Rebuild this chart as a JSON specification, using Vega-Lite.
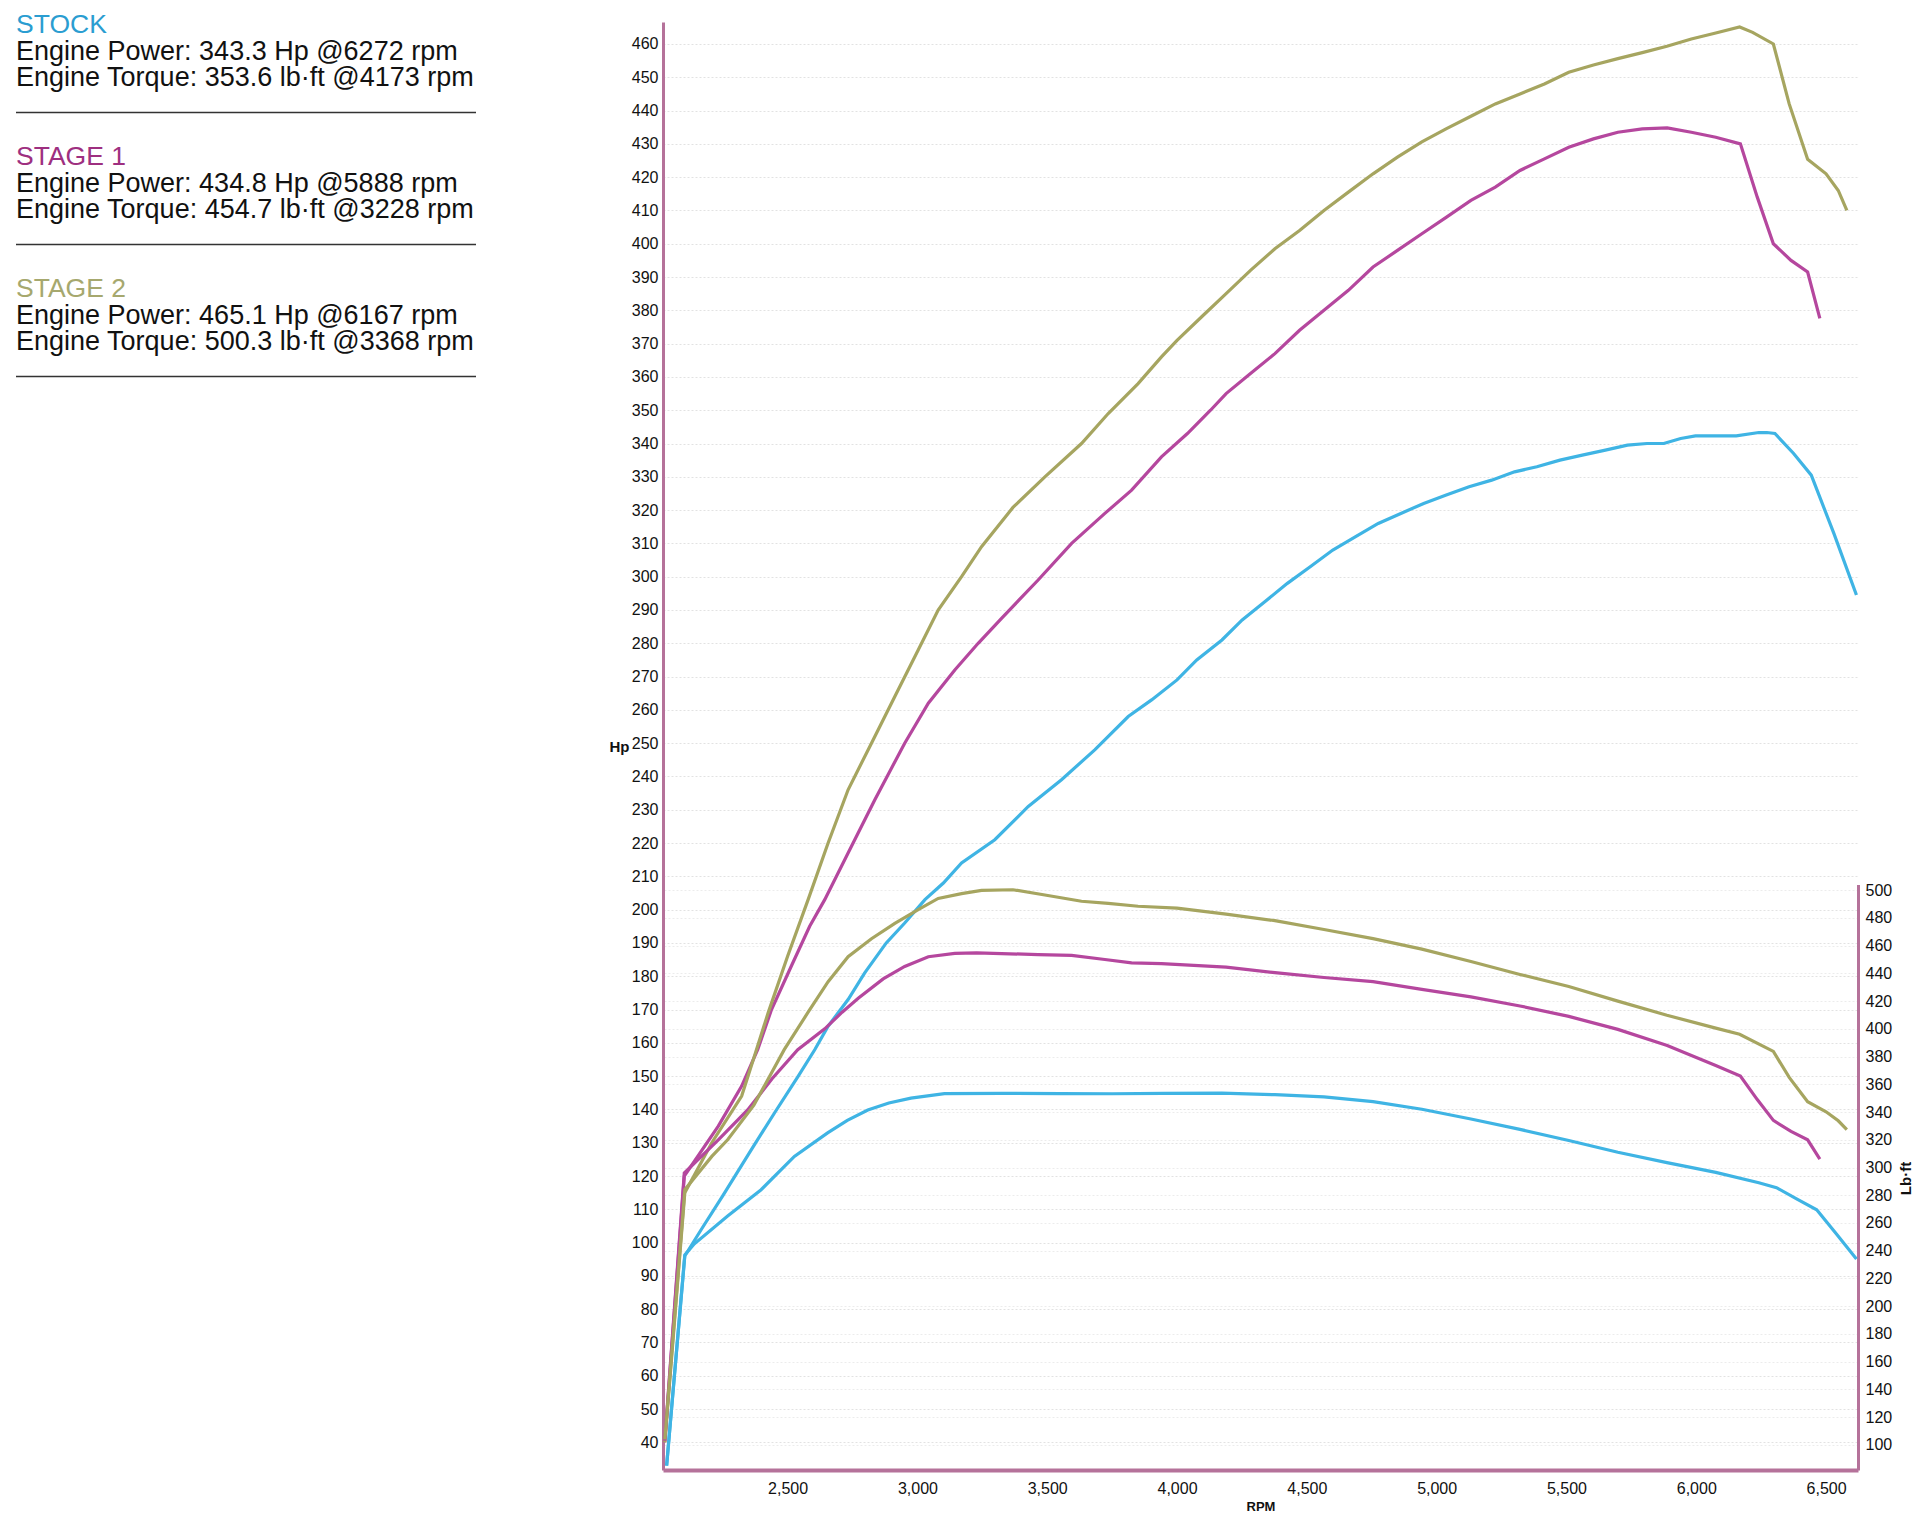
{
  "$schema": "https://vega.github.io/schema/vega-lite/v6.json",
  "description": "Dyno chart - Stock vs Stage 1 vs Stage 2, power and torque",
  "background": "white",
  "padding": {"left": 15, "top": 12, "right": 0, "bottom": 0},
  "bounds": "flush",
  "spacing": 187,
  "config": {
    "view": {"stroke": null},
    "font": "Liberation Sans"
  },
  "resolve": {"scale": {"color": "independent"}},
  "datasets": {
    "notes": [
      {"series": "STOCK", "kind": "header", "line": 0, "text": "STOCK"},
      {"series": "STOCK", "kind": "body", "line": 1, "text": "Engine Power: 343.3 Hp @6272 rpm"},
      {"series": "STOCK", "kind": "body", "line": 2, "text": "Engine Torque: 353.6 lb·ft @4173 rpm"},
      {"series": "STOCK", "kind": "rule", "line": 3, "text": ""},
      {"series": "STAGE 1", "kind": "header", "line": 5, "text": "STAGE 1"},
      {"series": "STAGE 1", "kind": "body", "line": 6, "text": "Engine Power: 434.8 Hp @5888 rpm"},
      {"series": "STAGE 1", "kind": "body", "line": 7, "text": "Engine Torque: 454.7 lb·ft @3228 rpm"},
      {"series": "STAGE 1", "kind": "rule", "line": 8, "text": ""},
      {"series": "STAGE 2", "kind": "header", "line": 10, "text": "STAGE 2"},
      {"series": "STAGE 2", "kind": "body", "line": 11, "text": "Engine Power: 465.1 Hp @6167 rpm"},
      {"series": "STAGE 2", "kind": "body", "line": 12, "text": "Engine Torque: 500.3 lb·ft @3368 rpm"},
      {"series": "STAGE 2", "kind": "rule", "line": 13, "text": ""}
    ],
    "curves": [
      {"series": "STOCK", "measure": "Power", "rpm": 2034, "value": 33},
      {"series": "STOCK", "measure": "Power", "rpm": 2104, "value": 96},
      {"series": "STOCK", "measure": "Power", "rpm": 2168, "value": 104},
      {"series": "STOCK", "measure": "Power", "rpm": 2250, "value": 114},
      {"series": "STOCK", "measure": "Power", "rpm": 2361, "value": 128},
      {"series": "STOCK", "measure": "Power", "rpm": 2450, "value": 139},
      {"series": "STOCK", "measure": "Power", "rpm": 2541, "value": 150},
      {"series": "STOCK", "measure": "Power", "rpm": 2605, "value": 158},
      {"series": "STOCK", "measure": "Power", "rpm": 2656, "value": 165},
      {"series": "STOCK", "measure": "Power", "rpm": 2733, "value": 173},
      {"series": "STOCK", "measure": "Power", "rpm": 2797, "value": 181},
      {"series": "STOCK", "measure": "Power", "rpm": 2880, "value": 190},
      {"series": "STOCK", "measure": "Power", "rpm": 2951, "value": 196},
      {"series": "STOCK", "measure": "Power", "rpm": 3029, "value": 203},
      {"series": "STOCK", "measure": "Power", "rpm": 3100, "value": 208},
      {"series": "STOCK", "measure": "Power", "rpm": 3170, "value": 214},
      {"series": "STOCK", "measure": "Power", "rpm": 3298, "value": 221},
      {"series": "STOCK", "measure": "Power", "rpm": 3427, "value": 231},
      {"series": "STOCK", "measure": "Power", "rpm": 3555, "value": 239},
      {"series": "STOCK", "measure": "Power", "rpm": 3683, "value": 248},
      {"series": "STOCK", "measure": "Power", "rpm": 3812, "value": 258},
      {"series": "STOCK", "measure": "Power", "rpm": 3902, "value": 263},
      {"series": "STOCK", "measure": "Power", "rpm": 4000, "value": 269},
      {"series": "STOCK", "measure": "Power", "rpm": 4076, "value": 275},
      {"series": "STOCK", "measure": "Power", "rpm": 4173, "value": 281},
      {"series": "STOCK", "measure": "Power", "rpm": 4251, "value": 287},
      {"series": "STOCK", "measure": "Power", "rpm": 4338, "value": 292.5},
      {"series": "STOCK", "measure": "Power", "rpm": 4425, "value": 298},
      {"series": "STOCK", "measure": "Power", "rpm": 4513, "value": 303},
      {"series": "STOCK", "measure": "Power", "rpm": 4600, "value": 308},
      {"series": "STOCK", "measure": "Power", "rpm": 4688, "value": 312},
      {"series": "STOCK", "measure": "Power", "rpm": 4775, "value": 316},
      {"series": "STOCK", "measure": "Power", "rpm": 4862, "value": 319},
      {"series": "STOCK", "measure": "Power", "rpm": 4950, "value": 322},
      {"series": "STOCK", "measure": "Power", "rpm": 5037, "value": 324.5},
      {"series": "STOCK", "measure": "Power", "rpm": 5125, "value": 327},
      {"series": "STOCK", "measure": "Power", "rpm": 5212, "value": 329},
      {"series": "STOCK", "measure": "Power", "rpm": 5300, "value": 331.5},
      {"series": "STOCK", "measure": "Power", "rpm": 5386, "value": 333},
      {"series": "STOCK", "measure": "Power", "rpm": 5475, "value": 335},
      {"series": "STOCK", "measure": "Power", "rpm": 5561, "value": 336.5},
      {"series": "STOCK", "measure": "Power", "rpm": 5650, "value": 338},
      {"series": "STOCK", "measure": "Power", "rpm": 5735, "value": 339.5},
      {"series": "STOCK", "measure": "Power", "rpm": 5810, "value": 340},
      {"series": "STOCK", "measure": "Power", "rpm": 5875, "value": 340},
      {"series": "STOCK", "measure": "Power", "rpm": 5940, "value": 341.5},
      {"series": "STOCK", "measure": "Power", "rpm": 5997, "value": 342.3},
      {"series": "STOCK", "measure": "Power", "rpm": 6075, "value": 342.3},
      {"series": "STOCK", "measure": "Power", "rpm": 6154, "value": 342.3},
      {"series": "STOCK", "measure": "Power", "rpm": 6241, "value": 343.3},
      {"series": "STOCK", "measure": "Power", "rpm": 6272, "value": 343.3},
      {"series": "STOCK", "measure": "Power", "rpm": 6303, "value": 343},
      {"series": "STOCK", "measure": "Power", "rpm": 6375, "value": 337},
      {"series": "STOCK", "measure": "Power", "rpm": 6443, "value": 330.5},
      {"series": "STOCK", "measure": "Power", "rpm": 6530, "value": 313},
      {"series": "STOCK", "measure": "Power", "rpm": 6617, "value": 294.5},

      {"series": "STOCK", "measure": "Torque", "rpm": 2034, "value": 85},
      {"series": "STOCK", "measure": "Torque", "rpm": 2104, "value": 237},
      {"series": "STOCK", "measure": "Torque", "rpm": 2141, "value": 245},
      {"series": "STOCK", "measure": "Torque", "rpm": 2269, "value": 265},
      {"series": "STOCK", "measure": "Torque", "rpm": 2398, "value": 284},
      {"series": "STOCK", "measure": "Torque", "rpm": 2526, "value": 308},
      {"series": "STOCK", "measure": "Torque", "rpm": 2654, "value": 325},
      {"series": "STOCK", "measure": "Torque", "rpm": 2730, "value": 334},
      {"series": "STOCK", "measure": "Torque", "rpm": 2809, "value": 341.5},
      {"series": "STOCK", "measure": "Torque", "rpm": 2890, "value": 346.5},
      {"series": "STOCK", "measure": "Torque", "rpm": 2975, "value": 350},
      {"series": "STOCK", "measure": "Torque", "rpm": 3104, "value": 353.3},
      {"series": "STOCK", "measure": "Torque", "rpm": 3324, "value": 353.5},
      {"series": "STOCK", "measure": "Torque", "rpm": 3553, "value": 353.3},
      {"series": "STOCK", "measure": "Torque", "rpm": 3750, "value": 353.2},
      {"series": "STOCK", "measure": "Torque", "rpm": 3950, "value": 353.4},
      {"series": "STOCK", "measure": "Torque", "rpm": 4173, "value": 353.6},
      {"series": "STOCK", "measure": "Torque", "rpm": 4377, "value": 352.5},
      {"series": "STOCK", "measure": "Torque", "rpm": 4566, "value": 351},
      {"series": "STOCK", "measure": "Torque", "rpm": 4755, "value": 347.5},
      {"series": "STOCK", "measure": "Torque", "rpm": 4943, "value": 342},
      {"series": "STOCK", "measure": "Torque", "rpm": 5132, "value": 335},
      {"series": "STOCK", "measure": "Torque", "rpm": 5321, "value": 327.5},
      {"series": "STOCK", "measure": "Torque", "rpm": 5509, "value": 319.5},
      {"series": "STOCK", "measure": "Torque", "rpm": 5698, "value": 311},
      {"series": "STOCK", "measure": "Torque", "rpm": 5887, "value": 303.5},
      {"series": "STOCK", "measure": "Torque", "rpm": 6075, "value": 296.5},
      {"series": "STOCK", "measure": "Torque", "rpm": 6241, "value": 289},
      {"series": "STOCK", "measure": "Torque", "rpm": 6309, "value": 285.5},
      {"series": "STOCK", "measure": "Torque", "rpm": 6390, "value": 277},
      {"series": "STOCK", "measure": "Torque", "rpm": 6464, "value": 269.5},
      {"series": "STOCK", "measure": "Torque", "rpm": 6540, "value": 252},
      {"series": "STOCK", "measure": "Torque", "rpm": 6617, "value": 234},

      {"series": "STAGE 1", "measure": "Power", "rpm": 2027, "value": 40},
      {"series": "STAGE 1", "measure": "Power", "rpm": 2102, "value": 120},
      {"series": "STAGE 1", "measure": "Power", "rpm": 2233, "value": 135},
      {"series": "STAGE 1", "measure": "Power", "rpm": 2323, "value": 147},
      {"series": "STAGE 1", "measure": "Power", "rpm": 2385, "value": 158},
      {"series": "STAGE 1", "measure": "Power", "rpm": 2438, "value": 170},
      {"series": "STAGE 1", "measure": "Power", "rpm": 2514, "value": 183},
      {"series": "STAGE 1", "measure": "Power", "rpm": 2585, "value": 195},
      {"series": "STAGE 1", "measure": "Power", "rpm": 2643, "value": 203},
      {"series": "STAGE 1", "measure": "Power", "rpm": 2733, "value": 217},
      {"series": "STAGE 1", "measure": "Power", "rpm": 2836, "value": 233},
      {"series": "STAGE 1", "measure": "Power", "rpm": 2951, "value": 250},
      {"series": "STAGE 1", "measure": "Power", "rpm": 3042, "value": 262},
      {"series": "STAGE 1", "measure": "Power", "rpm": 3144, "value": 272},
      {"series": "STAGE 1", "measure": "Power", "rpm": 3234, "value": 280},
      {"series": "STAGE 1", "measure": "Power", "rpm": 3324, "value": 287.5},
      {"series": "STAGE 1", "measure": "Power", "rpm": 3465, "value": 299},
      {"series": "STAGE 1", "measure": "Power", "rpm": 3594, "value": 310},
      {"series": "STAGE 1", "measure": "Power", "rpm": 3722, "value": 319},
      {"series": "STAGE 1", "measure": "Power", "rpm": 3825, "value": 326},
      {"series": "STAGE 1", "measure": "Power", "rpm": 3940, "value": 336},
      {"series": "STAGE 1", "measure": "Power", "rpm": 4040, "value": 343},
      {"series": "STAGE 1", "measure": "Power", "rpm": 4129, "value": 350},
      {"series": "STAGE 1", "measure": "Power", "rpm": 4189, "value": 355},
      {"series": "STAGE 1", "measure": "Power", "rpm": 4283, "value": 361},
      {"series": "STAGE 1", "measure": "Power", "rpm": 4377, "value": 367},
      {"series": "STAGE 1", "measure": "Power", "rpm": 4472, "value": 374},
      {"series": "STAGE 1", "measure": "Power", "rpm": 4566, "value": 380},
      {"series": "STAGE 1", "measure": "Power", "rpm": 4660, "value": 386},
      {"series": "STAGE 1", "measure": "Power", "rpm": 4755, "value": 393},
      {"series": "STAGE 1", "measure": "Power", "rpm": 4849, "value": 398},
      {"series": "STAGE 1", "measure": "Power", "rpm": 4943, "value": 403},
      {"series": "STAGE 1", "measure": "Power", "rpm": 5038, "value": 408},
      {"series": "STAGE 1", "measure": "Power", "rpm": 5132, "value": 413},
      {"series": "STAGE 1", "measure": "Power", "rpm": 5226, "value": 417},
      {"series": "STAGE 1", "measure": "Power", "rpm": 5321, "value": 422},
      {"series": "STAGE 1", "measure": "Power", "rpm": 5415, "value": 425.5},
      {"series": "STAGE 1", "measure": "Power", "rpm": 5509, "value": 429},
      {"series": "STAGE 1", "measure": "Power", "rpm": 5604, "value": 431.5},
      {"series": "STAGE 1", "measure": "Power", "rpm": 5698, "value": 433.5},
      {"series": "STAGE 1", "measure": "Power", "rpm": 5792, "value": 434.5},
      {"series": "STAGE 1", "measure": "Power", "rpm": 5888, "value": 434.8},
      {"series": "STAGE 1", "measure": "Power", "rpm": 5981, "value": 433.5},
      {"series": "STAGE 1", "measure": "Power", "rpm": 6075, "value": 432},
      {"series": "STAGE 1", "measure": "Power", "rpm": 6170, "value": 430},
      {"series": "STAGE 1", "measure": "Power", "rpm": 6235, "value": 414},
      {"series": "STAGE 1", "measure": "Power", "rpm": 6297, "value": 400},
      {"series": "STAGE 1", "measure": "Power", "rpm": 6365, "value": 395},
      {"series": "STAGE 1", "measure": "Power", "rpm": 6429, "value": 391.5},
      {"series": "STAGE 1", "measure": "Power", "rpm": 6476, "value": 377.6},

      {"series": "STAGE 1", "measure": "Torque", "rpm": 2027, "value": 103},
      {"series": "STAGE 1", "measure": "Torque", "rpm": 2102, "value": 296},
      {"series": "STAGE 1", "measure": "Torque", "rpm": 2233, "value": 320},
      {"series": "STAGE 1", "measure": "Torque", "rpm": 2346, "value": 341.5},
      {"series": "STAGE 1", "measure": "Torque", "rpm": 2440, "value": 364},
      {"series": "STAGE 1", "measure": "Torque", "rpm": 2539, "value": 385},
      {"series": "STAGE 1", "measure": "Torque", "rpm": 2643, "value": 400},
      {"series": "STAGE 1", "measure": "Torque", "rpm": 2710, "value": 412},
      {"series": "STAGE 1", "measure": "Torque", "rpm": 2772, "value": 422},
      {"series": "STAGE 1", "measure": "Torque", "rpm": 2868, "value": 436},
      {"series": "STAGE 1", "measure": "Torque", "rpm": 2951, "value": 445},
      {"series": "STAGE 1", "measure": "Torque", "rpm": 3042, "value": 452},
      {"series": "STAGE 1", "measure": "Torque", "rpm": 3144, "value": 454.4},
      {"series": "STAGE 1", "measure": "Torque", "rpm": 3228, "value": 454.7},
      {"series": "STAGE 1", "measure": "Torque", "rpm": 3324, "value": 454.3},
      {"series": "STAGE 1", "measure": "Torque", "rpm": 3465, "value": 453.5},
      {"series": "STAGE 1", "measure": "Torque", "rpm": 3594, "value": 453},
      {"series": "STAGE 1", "measure": "Torque", "rpm": 3722, "value": 450},
      {"series": "STAGE 1", "measure": "Torque", "rpm": 3825, "value": 447.6},
      {"series": "STAGE 1", "measure": "Torque", "rpm": 3940, "value": 447},
      {"series": "STAGE 1", "measure": "Torque", "rpm": 4189, "value": 444.5},
      {"series": "STAGE 1", "measure": "Torque", "rpm": 4377, "value": 440.5},
      {"series": "STAGE 1", "measure": "Torque", "rpm": 4566, "value": 437},
      {"series": "STAGE 1", "measure": "Torque", "rpm": 4755, "value": 434},
      {"series": "STAGE 1", "measure": "Torque", "rpm": 4943, "value": 428.5},
      {"series": "STAGE 1", "measure": "Torque", "rpm": 5132, "value": 423},
      {"series": "STAGE 1", "measure": "Torque", "rpm": 5321, "value": 416.5},
      {"series": "STAGE 1", "measure": "Torque", "rpm": 5509, "value": 409},
      {"series": "STAGE 1", "measure": "Torque", "rpm": 5698, "value": 399.6},
      {"series": "STAGE 1", "measure": "Torque", "rpm": 5888, "value": 388},
      {"series": "STAGE 1", "measure": "Torque", "rpm": 6075, "value": 373.5},
      {"series": "STAGE 1", "measure": "Torque", "rpm": 6170, "value": 366},
      {"series": "STAGE 1", "measure": "Torque", "rpm": 6235, "value": 349},
      {"series": "STAGE 1", "measure": "Torque", "rpm": 6297, "value": 334},
      {"series": "STAGE 1", "measure": "Torque", "rpm": 6365, "value": 326},
      {"series": "STAGE 1", "measure": "Torque", "rpm": 6429, "value": 320},
      {"series": "STAGE 1", "measure": "Torque", "rpm": 6476, "value": 306},

      {"series": "STAGE 2", "measure": "Power", "rpm": 2027, "value": 40},
      {"series": "STAGE 2", "measure": "Power", "rpm": 2104, "value": 115},
      {"series": "STAGE 2", "measure": "Power", "rpm": 2208, "value": 130},
      {"series": "STAGE 2", "measure": "Power", "rpm": 2323, "value": 144},
      {"series": "STAGE 2", "measure": "Power", "rpm": 2372, "value": 156},
      {"series": "STAGE 2", "measure": "Power", "rpm": 2425, "value": 169},
      {"series": "STAGE 2", "measure": "Power", "rpm": 2500, "value": 186},
      {"series": "STAGE 2", "measure": "Power", "rpm": 2579, "value": 203},
      {"series": "STAGE 2", "measure": "Power", "rpm": 2656, "value": 220},
      {"series": "STAGE 2", "measure": "Power", "rpm": 2733, "value": 236},
      {"series": "STAGE 2", "measure": "Power", "rpm": 2823, "value": 250},
      {"series": "STAGE 2", "measure": "Power", "rpm": 2913, "value": 264},
      {"series": "STAGE 2", "measure": "Power", "rpm": 3003, "value": 278},
      {"series": "STAGE 2", "measure": "Power", "rpm": 3080, "value": 290},
      {"series": "STAGE 2", "measure": "Power", "rpm": 3170, "value": 300},
      {"series": "STAGE 2", "measure": "Power", "rpm": 3247, "value": 309},
      {"series": "STAGE 2", "measure": "Power", "rpm": 3368, "value": 320.8},
      {"series": "STAGE 2", "measure": "Power", "rpm": 3491, "value": 330},
      {"series": "STAGE 2", "measure": "Power", "rpm": 3632, "value": 340},
      {"series": "STAGE 2", "measure": "Power", "rpm": 3735, "value": 349},
      {"series": "STAGE 2", "measure": "Power", "rpm": 3850, "value": 358},
      {"series": "STAGE 2", "measure": "Power", "rpm": 3940, "value": 366},
      {"series": "STAGE 2", "measure": "Power", "rpm": 4000, "value": 371},
      {"series": "STAGE 2", "measure": "Power", "rpm": 4094, "value": 378},
      {"series": "STAGE 2", "measure": "Power", "rpm": 4189, "value": 385},
      {"series": "STAGE 2", "measure": "Power", "rpm": 4283, "value": 392},
      {"series": "STAGE 2", "measure": "Power", "rpm": 4377, "value": 398.5},
      {"series": "STAGE 2", "measure": "Power", "rpm": 4472, "value": 404},
      {"series": "STAGE 2", "measure": "Power", "rpm": 4566, "value": 410},
      {"series": "STAGE 2", "measure": "Power", "rpm": 4660, "value": 415.5},
      {"series": "STAGE 2", "measure": "Power", "rpm": 4755, "value": 421},
      {"series": "STAGE 2", "measure": "Power", "rpm": 4849, "value": 426},
      {"series": "STAGE 2", "measure": "Power", "rpm": 4943, "value": 430.6},
      {"series": "STAGE 2", "measure": "Power", "rpm": 5038, "value": 434.6},
      {"series": "STAGE 2", "measure": "Power", "rpm": 5132, "value": 438.3},
      {"series": "STAGE 2", "measure": "Power", "rpm": 5226, "value": 442},
      {"series": "STAGE 2", "measure": "Power", "rpm": 5321, "value": 445},
      {"series": "STAGE 2", "measure": "Power", "rpm": 5415, "value": 448},
      {"series": "STAGE 2", "measure": "Power", "rpm": 5509, "value": 451.5},
      {"series": "STAGE 2", "measure": "Power", "rpm": 5604, "value": 453.7},
      {"series": "STAGE 2", "measure": "Power", "rpm": 5698, "value": 455.6},
      {"series": "STAGE 2", "measure": "Power", "rpm": 5792, "value": 457.4},
      {"series": "STAGE 2", "measure": "Power", "rpm": 5887, "value": 459.3},
      {"series": "STAGE 2", "measure": "Power", "rpm": 5981, "value": 461.5},
      {"series": "STAGE 2", "measure": "Power", "rpm": 6075, "value": 463.3},
      {"series": "STAGE 2", "measure": "Power", "rpm": 6167, "value": 465.1},
      {"series": "STAGE 2", "measure": "Power", "rpm": 6217, "value": 463.5},
      {"series": "STAGE 2", "measure": "Power", "rpm": 6297, "value": 460},
      {"series": "STAGE 2", "measure": "Power", "rpm": 6358, "value": 442},
      {"series": "STAGE 2", "measure": "Power", "rpm": 6429, "value": 425.4},
      {"series": "STAGE 2", "measure": "Power", "rpm": 6500, "value": 421},
      {"series": "STAGE 2", "measure": "Power", "rpm": 6547, "value": 416},
      {"series": "STAGE 2", "measure": "Power", "rpm": 6580, "value": 410},

      {"series": "STAGE 2", "measure": "Torque", "rpm": 2027, "value": 104},
      {"series": "STAGE 2", "measure": "Torque", "rpm": 2104, "value": 284},
      {"series": "STAGE 2", "measure": "Torque", "rpm": 2208, "value": 308},
      {"series": "STAGE 2", "measure": "Torque", "rpm": 2269, "value": 320},
      {"series": "STAGE 2", "measure": "Torque", "rpm": 2370, "value": 345},
      {"series": "STAGE 2", "measure": "Torque", "rpm": 2487, "value": 385},
      {"series": "STAGE 2", "measure": "Torque", "rpm": 2579, "value": 412},
      {"series": "STAGE 2", "measure": "Torque", "rpm": 2656, "value": 434},
      {"series": "STAGE 2", "measure": "Torque", "rpm": 2733, "value": 452},
      {"series": "STAGE 2", "measure": "Torque", "rpm": 2823, "value": 465},
      {"series": "STAGE 2", "measure": "Torque", "rpm": 2913, "value": 476},
      {"series": "STAGE 2", "measure": "Torque", "rpm": 3003, "value": 486},
      {"series": "STAGE 2", "measure": "Torque", "rpm": 3080, "value": 494},
      {"series": "STAGE 2", "measure": "Torque", "rpm": 3170, "value": 497.5},
      {"series": "STAGE 2", "measure": "Torque", "rpm": 3247, "value": 499.8},
      {"series": "STAGE 2", "measure": "Torque", "rpm": 3368, "value": 500.3},
      {"series": "STAGE 2", "measure": "Torque", "rpm": 3491, "value": 496.5},
      {"series": "STAGE 2", "measure": "Torque", "rpm": 3632, "value": 492},
      {"series": "STAGE 2", "measure": "Torque", "rpm": 3735, "value": 490.5},
      {"series": "STAGE 2", "measure": "Torque", "rpm": 3850, "value": 488.4},
      {"series": "STAGE 2", "measure": "Torque", "rpm": 4000, "value": 487},
      {"series": "STAGE 2", "measure": "Torque", "rpm": 4189, "value": 482.7},
      {"series": "STAGE 2", "measure": "Torque", "rpm": 4377, "value": 478},
      {"series": "STAGE 2", "measure": "Torque", "rpm": 4566, "value": 471.6},
      {"series": "STAGE 2", "measure": "Torque", "rpm": 4755, "value": 465},
      {"series": "STAGE 2", "measure": "Torque", "rpm": 4943, "value": 457.5},
      {"series": "STAGE 2", "measure": "Torque", "rpm": 5132, "value": 448.6},
      {"series": "STAGE 2", "measure": "Torque", "rpm": 5321, "value": 439.2},
      {"series": "STAGE 2", "measure": "Torque", "rpm": 5509, "value": 430.5},
      {"series": "STAGE 2", "measure": "Torque", "rpm": 5698, "value": 420},
      {"series": "STAGE 2", "measure": "Torque", "rpm": 5887, "value": 409.8},
      {"series": "STAGE 2", "measure": "Torque", "rpm": 6075, "value": 400.5},
      {"series": "STAGE 2", "measure": "Torque", "rpm": 6167, "value": 396.1},
      {"series": "STAGE 2", "measure": "Torque", "rpm": 6297, "value": 383.7},
      {"series": "STAGE 2", "measure": "Torque", "rpm": 6358, "value": 365},
      {"series": "STAGE 2", "measure": "Torque", "rpm": 6429, "value": 347.5},
      {"series": "STAGE 2", "measure": "Torque", "rpm": 6500, "value": 340.2},
      {"series": "STAGE 2", "measure": "Torque", "rpm": 6547, "value": 333.7},
      {"series": "STAGE 2", "measure": "Torque", "rpm": 6580, "value": 327.3}
    ]
  },
  "hconcat": [
    {
      "width": 460,
      "height": 400,
      "data": {"name": "notes"},
      "encoding": {
        "x": {"datum": 0, "type": "quantitative", "scale": {"domain": [0, 1], "nice": false, "zero": false}, "axis": null},
        "y": {"field": "line", "type": "quantitative", "scale": {"domain": [-0.428, 14.72], "reverse": true, "nice": false, "zero": false}, "axis": null}
      },
      "layer": [
        {
          "transform": [{"filter": "datum.kind == 'header'"}],
          "mark": {"type": "text", "align": "left", "baseline": "alphabetic", "fontSize": 26.5, "font": "Liberation Sans"},
          "encoding": {
            "text": {"field": "text"},
            "color": {
              "field": "series",
              "type": "nominal",
              "scale": {"domain": ["STOCK", "STAGE 1", "STAGE 2"], "range": ["#2a9dd1", "#9e2f80", "#a6a86e"]},
              "legend": null
            }
          }
        },
        {
          "transform": [{"filter": "datum.kind == 'body'"}],
          "mark": {"type": "text", "align": "left", "baseline": "alphabetic", "fontSize": 27, "font": "Liberation Sans", "color": "#111111"},
          "encoding": {"text": {"field": "text"}}
        },
        {
          "transform": [{"filter": "datum.kind == 'rule'"}],
          "mark": {"type": "rule", "color": "#333333", "strokeWidth": 1.5},
          "encoding": {"x2": {"datum": 1}}
        }
      ]
    },
    {
      "width": 1195,
      "height": 1448,
      "data": {"name": "curves"},
      "encoding": {
        "x": {
          "field": "rpm",
          "type": "quantitative",
          "scale": {"domain": [2020, 6623], "nice": false, "zero": false},
          "axis": {
            "title": "RPM",
            "values": [2500, 3000, 3500, 4000, 4500, 5000, 5500, 6000, 6500],
            "format": ",d",
            "grid": false,
            "ticks": false,
            "labelFontSize": 16,
            "labelColor": "#111111",
            "labelPadding": 10,
            "labelFlush": false,
            "domainColor": "#b5729a",
            "domainWidth": 4,
            "titleFontSize": 13,
            "titleFontWeight": "bold",
            "titleColor": "#111111",
            "titlePadding": 4
          }
        }
      },
      "layer": [
        {
          "transform": [{"filter": "datum.measure == 'Power'"}],
          "mark": {"type": "line", "strokeWidth": 3.2},
          "encoding": {
            "y": {
              "field": "value",
              "type": "quantitative",
              "scale": {"domain": [31.7, 466.6], "nice": false, "zero": false},
              "axis": {
                "orient": "left",
                "title": "Hp",
                "titleAngle": 0,
                "titleAlign": "right",
                "titleBaseline": "middle",
                "titleX": -34,
                "titleY": 724,
                "titleFontSize": 15,
                "titleFontWeight": "bold",
                "titleColor": "#111111",
                "values": [40, 50, 60, 70, 80, 90, 100, 110, 120, 130, 140, 150, 160, 170, 180, 190, 200, 210, 220, 230, 240, 250, 260, 270, 280, 290, 300, 310, 320, 330, 340, 350, 360, 370, 380, 390, 400, 410, 420, 430, 440, 450, 460],
                "ticks": false,
                "labelFontSize": 16,
                "labelColor": "#111111",
                "labelPadding": 5,
                "domainColor": "#b5729a",
                "domainWidth": 3,
                "grid": true,
                "gridColor": "#e2e2e2",
                "gridDash": [2, 2],
                "gridWidth": 1
              }
            },
            "color": {
              "field": "series",
              "type": "nominal",
              "scale": {"domain": ["STOCK", "STAGE 1", "STAGE 2"], "range": ["#3fb4e4", "#b5479e", "#a6a560"]},
              "legend": null
            }
          }
        },
        {
          "transform": [{"filter": "datum.measure == 'Torque'"}],
          "mark": {"type": "line", "strokeWidth": 3.2},
          "encoding": {
            "y": {
              "field": "value",
              "type": "quantitative",
              "scale": {"domain": [81.9, 504], "range": [1448, 862.6], "nice": false, "zero": false},
              "axis": {
                "orient": "right",
                "title": "Lb·ft",
                "titleAngle": 270,
                "titleAlign": "center",
                "titleBaseline": "middle",
                "titleX": 47,
                "titleY": 1156,
                "titleFontSize": 15,
                "titleFontWeight": "bold",
                "titleColor": "#111111",
                "values": [100, 120, 140, 160, 180, 200, 220, 240, 260, 280, 300, 320, 340, 360, 380, 400, 420, 440, 460, 480, 500],
                "ticks": false,
                "domain": true,
                "domainColor": "#b5729a",
                "domainWidth": 3,
                "labelFontSize": 16,
                "labelColor": "#111111",
                "labelPadding": 7,
                "grid": true,
                "gridColor": "#ececec",
                "gridDash": [2, 2],
                "gridWidth": 1
              }
            },
            "color": {
              "field": "series",
              "type": "nominal",
              "scale": {"domain": ["STOCK", "STAGE 1", "STAGE 2"], "range": ["#3fb4e4", "#b5479e", "#a6a560"]},
              "legend": null
            }
          }
        }
      ],
      "resolve": {"scale": {"y": "independent"}}
    }
  ]
}
